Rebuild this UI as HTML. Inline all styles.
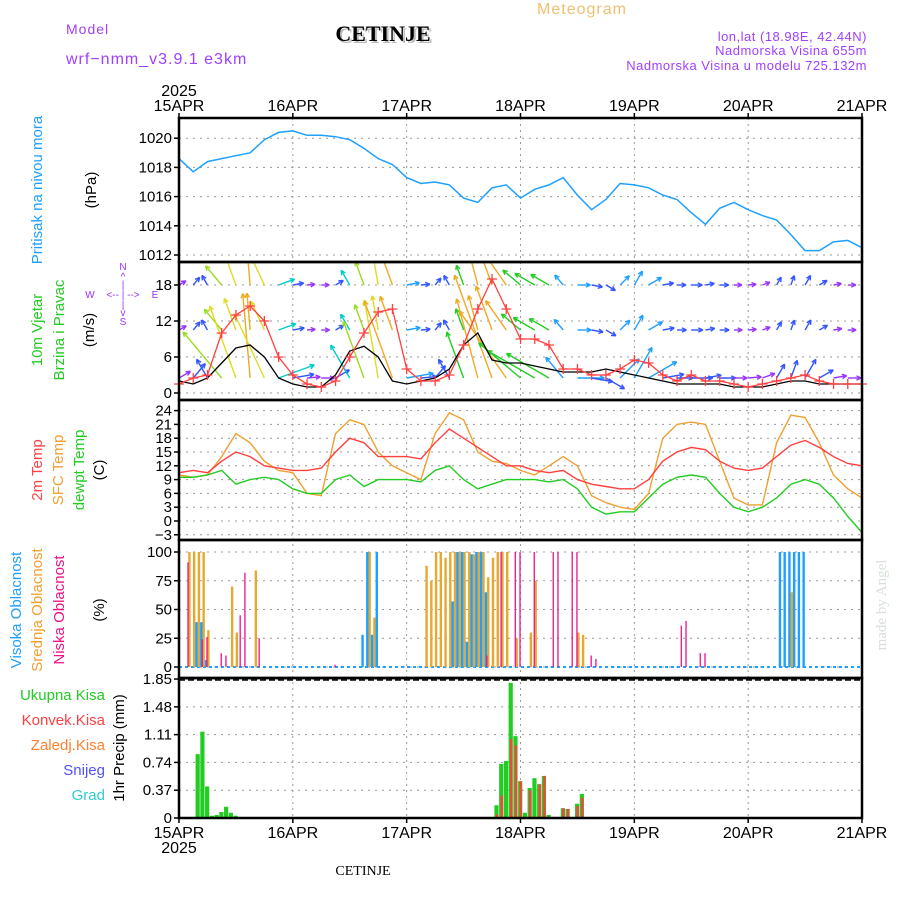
<!DOCTYPE html>
<html><head><meta charset="utf-8"><style>
html,body{margin:0;padding:0;background:#fff;}
svg{display:block;font-family:"Liberation Sans",sans-serif;}
</style></head><body>
<svg id="c" width="900" height="900" viewBox="0 0 900 900" xmlns="http://www.w3.org/2000/svg">
<g>
<text x="582" y="14" fill="#f0c070" font-size="16" text-anchor="middle" letter-spacing="1">Meteogram</text>
<text x="66" y="34" fill="#a040ff" font-size="14" letter-spacing="1">Model</text>
<text x="66" y="64" fill="#a040ff" font-size="16" letter-spacing="1">wrf−nmm_v3.9.1 e3km</text>
<text x="385" y="43" fill="#bbb" font-size="22" font-weight="bold" font-family="Liberation Serif,serif" text-anchor="middle">CETINJE</text>
<text x="383" y="41" fill="#000" font-size="22" font-weight="bold" font-family="Liberation Serif,serif" text-anchor="middle">CETINJE</text>
<text x="867" y="41" fill="#a040ff" font-size="13" text-anchor="end" letter-spacing="0.5">lon,lat (18.98E, 42.44N)</text>
<text x="867" y="55" fill="#a040ff" font-size="13" text-anchor="end" letter-spacing="0.5">Nadmorska Visina 655m</text>
<text x="867" y="70" fill="#a040ff" font-size="13" text-anchor="end" letter-spacing="0.5">Nadmorska Visina u modelu 725.132m</text>
<text x="363" y="875" fill="#000" font-size="14" font-family="Liberation Serif,serif" text-anchor="middle">CETINJE</text>
<text transform="translate(886,605) rotate(-90)" fill="#d8e0d8" font-size="15" font-family="Liberation Serif,serif" text-anchor="middle">made by Angel</text>
</g>
<g id="grid"></g>
<g id="marks"></g>
<g id="axes"></g>
<g id="labels">
<text transform="translate(42,190) rotate(-90)" fill="#1ea0ff" font-size="15" text-anchor="middle">Pritisak na nivou mora</text>
<text transform="translate(96,190) rotate(-90)" fill="#000" font-size="15" text-anchor="middle">(hPa)</text>
<text transform="translate(42,330) rotate(-90)" fill="#22cc22" font-size="15" text-anchor="middle">10m Vjetar</text>
<text transform="translate(64,330) rotate(-90)" fill="#22cc22" font-size="15" text-anchor="middle">Brzina i Pravac</text>
<text transform="translate(94,330) rotate(-90)" fill="#000" font-size="15" text-anchor="middle">(m/s)</text>
<g fill="#9933ff" font-size="10" text-anchor="middle">
<text x="123" y="270">N</text><text x="123" y="280">^</text><text x="123" y="288">|</text>
<text x="90" y="298">W</text><text x="123" y="298">&lt;-- | --&gt;</text><text x="155" y="298">E</text>
<text x="123" y="308">|</text><text x="123" y="316">v</text><text x="123" y="325">S</text>
</g>
<text transform="translate(42,470) rotate(-90)" fill="#ff4040" font-size="15" text-anchor="middle">2m Temp</text>
<text transform="translate(63,470) rotate(-90)" fill="#f0a030" font-size="15" text-anchor="middle">SFC Temp</text>
<text transform="translate(84,470) rotate(-90)" fill="#22cc22" font-size="15" text-anchor="middle">dewpt Temp</text>
<text transform="translate(104,470) rotate(-90)" fill="#000" font-size="15" text-anchor="middle">(C)</text>
<text transform="translate(21,610) rotate(-90)" fill="#1ea0ff" font-size="15" text-anchor="middle">Visoka Oblacnost</text>
<text transform="translate(42,610) rotate(-90)" fill="#f0a030" font-size="15" text-anchor="middle">Srednja Oblacnost</text>
<text transform="translate(64,610) rotate(-90)" fill="#ee1188" font-size="15" text-anchor="middle">Niska Oblacnost</text>
<text transform="translate(104,610) rotate(-90)" fill="#000" font-size="15" text-anchor="middle">(%)</text>
<text x="105" y="700" fill="#22cc22" font-size="15" text-anchor="end">Ukupna Kisa</text>
<text x="105" y="725" fill="#ff4040" font-size="15" text-anchor="end">Konvek.Kisa</text>
<text x="105" y="750" fill="#ff8030" font-size="15" text-anchor="end">Zaledj.Kisa</text>
<text x="105" y="775" fill="#5050ff" font-size="15" text-anchor="end">Snijeg</text>
<text x="105" y="800" fill="#33cccc" font-size="15" text-anchor="end">Grad</text>
<text transform="translate(124,748) rotate(-90)" fill="#000" font-size="15" text-anchor="middle">1hr Precip (mm)</text>
</g>
</svg>
<script>
// ---- data (3-hourly, hour 0..144 from 15APR 00) ----
const dayLabels=["15APR","16APR","17APR","18APR","19APR","20APR","21APR"];
const pressure=[1018.6,1017.7,1018.4,1018.6,1018.8,1019.0,1019.9,1020.4,1020.5,1020.2,1020.2,1020.1,1019.9,1019.3,1018.6,1018.2,1017.3,1016.9,1017.0,1016.8,1015.9,1015.6,1016.6,1016.8,1015.9,1016.5,1016.8,1017.3,1016.1,1015.1,1015.8,1016.9,1016.8,1016.6,1016.1,1015.8,1014.9,1014.1,1015.2,1015.6,1015.1,1014.7,1014.4,1013.4,1012.3,1012.3,1012.9,1013.0,1012.5];
const windSpeed=[1.5,2.5,3,10,13,14.5,12,6,3,1.5,1,2,6,10,13.5,14,4,2,2,3,8,14,19,14,9,9,8,4,4,3,3,4,5.5,5,3,2,3,2,2,1.5,1,1.5,2,2.5,3,2,1.5,1.5,1.5];
const windGust=[2,1.5,2.5,5,7.5,8,6,2.5,1.5,1,1,3,7,7.8,6,2,1.5,2,2.5,4,8,10,5.5,5,5,4.5,4,3.5,3.5,3.5,4,3.5,3,2.5,2,1.5,1.5,1.5,1.5,1,1,1,1.5,2,2,1.5,1.5,1.5,1.5];
const windDir=[60,40,-30,-40,-20,-5,-25,70,80,85,90,60,-30,-20,-10,-20,80,85,40,-30,-20,-15,-20,-35,-50,-60,-60,-40,90,100,120,45,30,60,80,90,90,80,90,90,85,70,30,20,30,60,80,90,90];
const temp2m=[10.5,11,10.5,13,15,14,12,11.5,11,11,11.5,15,18,17,14,14,14,13.5,17,20,18,16,14,12,12,11,10.5,11,9,8,7.5,7,7,9,13,15,16,15.5,13,11.5,11,11.5,14,16.5,17.5,16,14,12.5,12];
const tempSfc=[10,9.5,10,14,19,17,13,11,10.5,6,5.5,19,22,21,15,12,10.5,9,19,23.5,22,15,13,12.5,11,10,12,14,12,5.5,4,3,2.5,6,18,21,21.5,21,13,5,3.5,3.5,17,23,22.5,17,10,7,5];
const tempDew=[9.5,9.5,10,11,8,9,9.5,9,7,6,6,9,10,7.5,9,9,9,8.5,11,12,9,7,8,9,9,9,8.5,9,7,3,1.5,2,2,5,8,9.5,10,9.5,6,3,2,3,5,8,9,8,5,1,-2.5];
// cloud cover: [hour, percent]
const cloudHigh=[[4,39],[5,39],[6,6],[39,28],[40,100],[41,28],[42,100],[58,57],[59,100],[60,100],[61,22],[62,98],[63,100],[64,100],[65,65],[127,100],[128,100],[129,100],[130,100],[131,100],[132,100]];
const cloudMid=[[2,100],[3,100],[4,100],[5,100],[6,32],[11,70],[12,30],[16,84],[40,100],[41,43],[52,88],[53,75],[54,100],[55,100],[56,95],[57,100],[58,100],[59,100],[60,100],[61,100],[62,98],[63,100],[64,100],[65,78],[66,95],[67,100],[68,100],[69,100],[71,25],[74,30],[75,75],[84,30],[85,28],[129,65]];
const cloudLow=[[2,91],[5,24],[6,26],[9,12],[10,10],[13,45],[14,82],[17,25],[33,2],[65,10],[68,100],[71,100],[72,100],[75,100],[79,100],[80,100],[83,100],[84,100],[87,10],[88,7],[106,36],[107,40],[110,12],[111,12]];
// precip: [hour, mm]
const precipTotal=[[4,0.85],[5,1.15],[6,0.42],[7,0.03],[8,0.04],[9,0.08],[10,0.15],[11,0.07],[12,0.03],[67,0.17],[68,0.72],[69,0.76],[70,1.8],[71,1.09],[72,0.49],[73,0.07],[74,0.4],[75,0.53],[76,0.45],[77,0.56],[78,0.04],[81,0.13],[82,0.12],[84,0.19],[85,0.32]];
const precipConv=[[67,0.05],[68,0.3],[70,1.05],[71,0.97],[72,0.49],[74,0.37],[76,0.45],[77,0.56],[81,0.13],[82,0.12],[84,0.16],[85,0.27]];
const pTicks=[1012,1014,1016,1018,1020];
const wTicks=[0,6,12,18];
const tTicks=[-3,0,3,6,9,12,15,18,21,24];
const cTicks=[0,25,50,75,100];
const rTicks=["0","0.37","0.74","1.11","1.48","1.85"];

// ---- axes ----
const L=179,R=862;
const X=h=>L+h*(R-L)/144;
const hourOf=i=>i*3;
const YP=p=>255-(p-1012)*14.6;
const YW=v=>393-v*6;
const YT=t=>521-t*4.6;
const YC=c=>667-c*1.15;
const YR=m=>818-m*75.1;
const NS="http://www.w3.org/2000/svg";
const grid=document.getElementById('grid'),marks=document.getElementById('marks'),axes=document.getElementById('axes');
function mk(tag,attrs,parent){const e=document.createElementNS(NS,tag);for(const k in attrs)e.setAttribute(k,attrs[k]);parent.appendChild(e);return e;}

const panels=[{t:118,b:262},{t:262,b:400},{t:400,b:540},{t:540,b:678},{t:678,b:818}];
dayLabels.forEach((d,i)=>{
  const x=X(i*24);
  if(i>0&&i<6){const g=mk('line',{x1:x,x2:x,y1:118,y2:818,stroke:'#999','stroke-dasharray':'2,4'},grid);
  
  }
  const t1=mk('text',{x:x,y:111,'font-size':16,'text-anchor':'middle',fill:'#000'},axes);t1.textContent=d;
  
  
  const t2=mk('text',{x:x,y:838,'font-size':16,'text-anchor':'middle',fill:'#000'},axes);t2.textContent=d;
  
  
  mk('line',{x1:x,x2:x,y1:818,y2:823,stroke:'#000','stroke-width':1.5},axes);
  mk('line',{x1:x,x2:x,y1:113,y2:118,stroke:'#000','stroke-width':1.5},axes);
});
let yr=mk('text',{x:X(0),y:96,'font-size':16,'text-anchor':'middle'},axes);yr.textContent='2025';


yr=mk('text',{x:X(0),y:853,'font-size':16,'text-anchor':'middle'},axes);yr.textContent='2025';



function yAxis(ticks,fn,name){
  ticks.forEach(v=>{
    const y=fn(parseFloat(v));
    const g=mk('line',{x1:L,x2:R,y1:y,y2:y,stroke:'#999','stroke-dasharray':'2,5'},grid);
    
    
    mk('line',{x1:L-5,x2:L,y1:y,y2:y,stroke:'#000','stroke-width':1.5},axes);
    const t=mk('text',{x:L-7,y:y+5,'font-size':15,'text-anchor':'end',fill:'#000'},axes);t.textContent=String(v).replace('-','−');
    
    
  });
}
yAxis(pTicks,YP,'pressure');
yAxis(wTicks,YW,'wind');
yAxis(tTicks,YT,'temp');
yAxis(cTicks,YC,'cloud');
yAxis(rTicks,YR,'precip');

panels.forEach((p,i)=>{
  const r=mk('rect',{x:L,y:p.t,width:R-L,height:p.b-p.t,fill:'none',stroke:'#000','stroke-width':2.5},axes);
  
  
});
mk('line',{x1:L,x2:R,y1:680,y2:680,stroke:'#000','stroke-width':1.5,'stroke-dasharray':'6,3'},axes);

const defs=mk('defs',{},marks);
const cp=mk('clipPath',{id:'wclip'},defs);
mk('rect',{x:L,y:263,width:R-L,height:136},cp);

function pathOf(arr,fy){return arr.map((v,i)=>(i?'L':'M')+X(hourOf(i)).toFixed(1)+','+fy(v).toFixed(1)).join(' ');}

let e=mk('path',{d:pathOf(pressure,YP),fill:'none',stroke:'#1ea0ff','stroke-width':1.5},marks);



const wg=mk('g',{'clip-path':'url(#wclip)'},marks);


function spdColor(v){
  if(v<2)return '#9933ff';if(v<4)return '#3355ff';if(v<6)return '#1ea0ff';if(v<8)return '#00cccc';
  if(v<10)return '#22cc22';if(v<12)return '#99dd22';if(v<14)return '#dddd22';return '#eeaa22';}
const rows=[{base:18,scale:2.0,min:1.5},{base:10.5,scale:2.2,min:1.5},{base:2.5,scale:5.5,min:1.5}];
windSpeed.forEach((v,i)=>{
  const x=X(hourOf(i)),a=windDir[i]*Math.PI/180;
  rows.forEach(r=>{
    const len=Math.max(v,r.min)*r.scale+5;
    const y0=YW(r.base),x1=x+Math.sin(a)*len,y1=y0-Math.cos(a)*len;
    const col=spdColor(v);
    const g=mk('g',{stroke:col,'stroke-width':1.4,fill:'none'},wg);
    
    
    mk('line',{x1:x,y1:y0,x2:x1,y2:y1},g);
    const hl=5;
    [a+Math.PI-0.45,a+Math.PI+0.45].forEach(b=>mk('line',{x1:x1,y1:y1,x2:x1+Math.sin(b)*hl,y2:y1-Math.cos(b)*hl},g));
  });
});
e=mk('path',{d:pathOf(windGust,YW),fill:'none',stroke:'#000','stroke-width':1.3},marks);


e=mk('path',{d:pathOf(windSpeed,YW),fill:'none',stroke:'#ff4040','stroke-width':1.3,'clip-path':'url(#wclip)'},marks);


windSpeed.forEach((v,i)=>{
  const x=X(hourOf(i)),y=YW(v);
  const m=mk('path',{d:`M${x-5},${y}H${x+5}M${x},${y-5}V${y+5}`,stroke:'#ff4040','stroke-width':1.3},marks);
  
  
});

[[tempSfc,'#f0a030','sfc-temp-line'],[temp2m,'#ff4040','temp-2m-line'],[tempDew,'#22cc22','dewpoint-line']].forEach(([arr,c,n])=>{
  const p=mk('path',{d:pathOf(arr,YT),fill:'none',stroke:c,'stroke-width':1.4},marks);
  
  
});

const cb=mk('line',{x1:L,x2:R,y1:YC(0),y2:YC(0),stroke:'#1ea0ff','stroke-width':2,'stroke-dasharray':'3,3'},marks);


[[cloudMid,'#e8a830',2.4,0.2,'mid-cloud-bar'],[cloudHigh,'#1ea0ff',2.4,-0.3,'high-cloud-bar'],[cloudLow,'#ee1188',1.3,-0.1,'low-cloud-bar']].forEach(([arr,c,w,off,n])=>{
  arr.forEach(([h,v])=>{
    const x=X(h+off);
    const r=mk('rect',{x:x-w/2,y:YC(v),width:w,height:YC(0)-YC(v),fill:c},marks);
    
    
  });
});

precipTotal.forEach(([h,v])=>{
  const x=X(h);
  const r=mk('rect',{x:x-2.4,y:YR(v),width:4.2,height:YR(0)-YR(v),fill:'#22cc22'},marks);
  
  
});
precipConv.forEach(([h,v])=>{
  const x=X(h);
  const r=mk('rect',{x:x-1,y:YR(v),width:2.4,height:YR(0)-YR(v),fill:'#ff4040'},marks);
  
  
});
</script>
</body></html>
